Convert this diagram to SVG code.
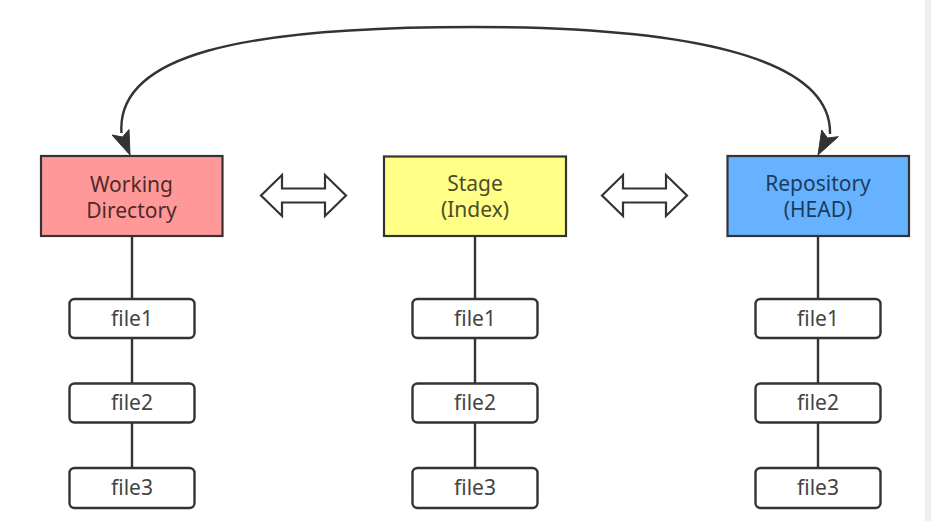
<svg xmlns="http://www.w3.org/2000/svg" width="931" height="521" viewBox="0 0 931 521">
<style>
.box{stroke:#333;stroke-width:2.2}
.file{fill:#fff;stroke:#333;stroke-width:2.4}
.lbl{font-family:"Noto Sans","Open Sans","Liberation Sans",sans-serif;font-size:21px;text-anchor:middle}
.ftxt{font-family:"Noto Sans","Open Sans","Liberation Sans",sans-serif;font-size:21px;text-anchor:middle;fill:#444}
.line{fill:none;stroke:#333;stroke-width:2.4}
.curve{fill:none;stroke:#333;stroke-width:2.4}
.head{fill:#333;stroke:#333;stroke-width:1;stroke-linejoin:round}
.dbl{fill:#fff;stroke:#333;stroke-width:2.2;stroke-linejoin:miter}
</style>
<rect x="0" y="0" width="931" height="521" fill="#fff"/>
<rect x="925" y="0" width="6" height="521" fill="#f0f0f0"/>
<g id="connectors">
<path class="curve" d="M121.5,133 C116,55 240,27 473,27 C680,27 832,55 830,134"/>
<polygon class="head" points="130,155 112,135 122.5,137 129,129.5"/>
<polygon class="head" points="818,155 821.7,130 827.5,138 838.3,136.7"/>
<path class="line" d="M132,236 V299 M132,338 V383.5 M132,422.5 V468"/>
<path class="line" d="M475,236 V299 M475,338 V383.5 M475,422.5 V468"/>
<path class="line" d="M818,236 V299 M818,338 V383.5 M818,422.5 V468"/>
<polygon class="dbl" points="261,195.5 282,175 282,188.5 325,188.5 325,175 346,195.5 325,216 325,202.5 282,202.5 282,216"/>
<polygon class="dbl" points="602,195.5 623,175 623,188.5 666,188.5 666,175 687,195.5 666,216 666,202.5 623,202.5 623,216"/>
</g>
<g id="working">
<rect class="box" x="41" y="156" width="181.5" height="80" fill="#ff9999"/>
<text class="lbl" x="131.5" y="191.5" fill="#4f2a2a">Working</text>
<text class="lbl" x="131.5" y="218" fill="#4f2a2a">Directory</text>
</g>
<g id="stage">
<rect class="box" x="384" y="156.5" width="182" height="79.5" fill="#ffff88"/>
<text class="lbl" x="475" y="191" fill="#4d4d2a">Stage</text>
<text class="lbl" x="475" y="217" fill="#4d4d2a">(Index)</text>
</g>
<g id="repository">
<rect class="box" x="727.5" y="156" width="181.5" height="80" fill="#66b2ff"/>
<text class="lbl" x="818" y="191" fill="#1f3b5c">Repository</text>
<text class="lbl" x="818" y="217" fill="#1f3b5c">(HEAD)</text>
</g>
<g id="wd-file1"><rect class="file" x="69.5" y="299" width="125" height="39" rx="5"/><text class="ftxt" x="132" y="326">file1</text></g>
<g id="wd-file2"><rect class="file" x="69.5" y="383.5" width="125" height="39" rx="5"/><text class="ftxt" x="132" y="410">file2</text></g>
<g id="wd-file3"><rect class="file" x="69.5" y="468" width="125" height="40" rx="5"/><text class="ftxt" x="132" y="494.5">file3</text></g>
<g id="st-file1"><rect class="file" x="412.5" y="299" width="125" height="39" rx="5"/><text class="ftxt" x="475" y="326">file1</text></g>
<g id="st-file2"><rect class="file" x="412.5" y="383.5" width="125" height="39" rx="5"/><text class="ftxt" x="475" y="410">file2</text></g>
<g id="st-file3"><rect class="file" x="412.5" y="468" width="125" height="40" rx="5"/><text class="ftxt" x="475" y="494.5">file3</text></g>
<g id="rp-file1"><rect class="file" x="755.5" y="299" width="125" height="39" rx="5"/><text class="ftxt" x="818" y="326">file1</text></g>
<g id="rp-file2"><rect class="file" x="755.5" y="383.5" width="125" height="39" rx="5"/><text class="ftxt" x="818" y="410">file2</text></g>
<g id="rp-file3"><rect class="file" x="755.5" y="468" width="125" height="40" rx="5"/><text class="ftxt" x="818" y="494.5">file3</text></g>
</svg>
